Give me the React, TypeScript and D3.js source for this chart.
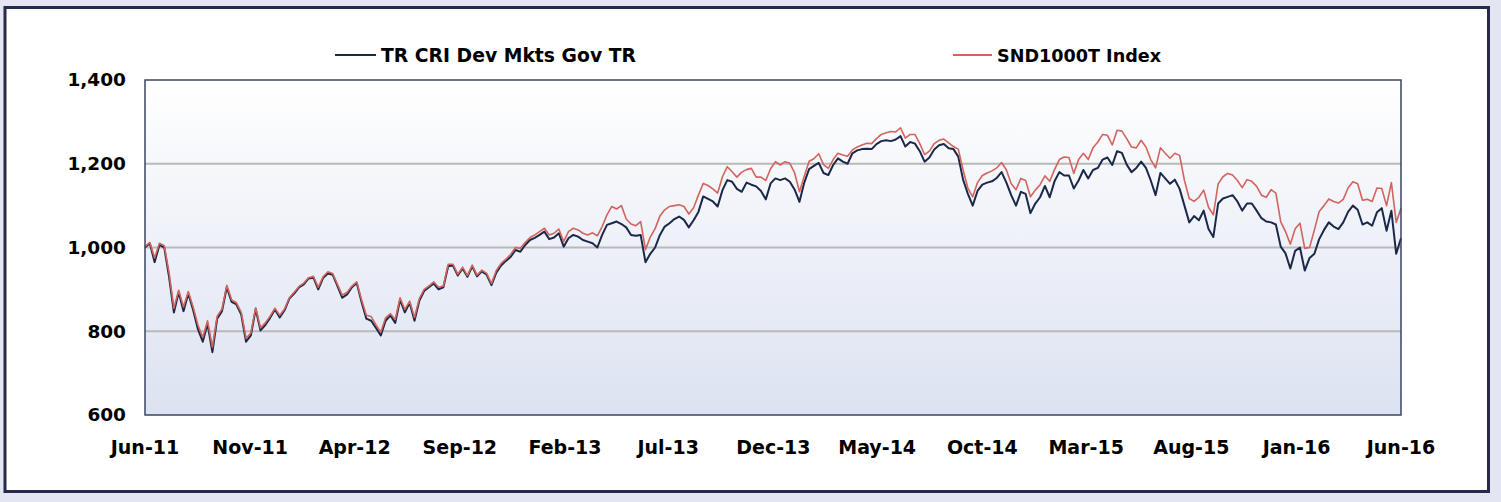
import React from 'react';
import * as d3 from 'd3';

// weekly closes (first point = 1 Jun 2011)
const START_DATE = new Date(2011, 5, 1);
const STEP_DAYS = 7;

const trValues = [
  1000, 1010, 965, 1006, 1000, 930, 845, 893, 848, 890, 851, 805, 775, 818, 750, 830, 848, 905, 870, 864,
  840, 775, 790, 853, 802, 815, 832, 852, 833, 850, 878, 890, 905, 912, 926, 928, 900, 927, 938, 935,
  908, 880, 888, 905, 915, 870, 830, 825, 808, 790, 825, 838, 820, 875, 845, 868, 825, 873, 896, 905,
  914, 900, 905, 955, 957, 933, 950, 930, 955, 931, 943, 935, 910, 940, 957, 968, 978, 994, 990, 1006,
  1018, 1023, 1030, 1038, 1020, 1024, 1034, 1002, 1022, 1030, 1026, 1018, 1014, 1010, 1000, 1030, 1054, 1058, 1062, 1056,
  1048, 1030, 1028, 1030, 965, 985, 1000, 1030, 1050, 1058, 1068, 1074, 1066, 1048, 1065, 1085, 1122, 1116, 1110, 1098,
  1137, 1161, 1157, 1140, 1133, 1155, 1150, 1146, 1135, 1115, 1153, 1165, 1161, 1165, 1157, 1138, 1109, 1155, 1187, 1195,
  1202, 1178, 1173, 1197, 1213, 1205, 1200, 1225, 1232, 1235, 1236, 1235, 1247, 1254, 1256, 1254, 1258, 1266, 1241, 1252,
  1248, 1230, 1205, 1215, 1234, 1244, 1247, 1237, 1235, 1217, 1162, 1128, 1100, 1135, 1150, 1155, 1158, 1166, 1180, 1155,
  1125, 1100, 1133, 1128, 1082, 1105, 1120, 1147, 1120, 1158, 1180, 1172, 1172, 1141, 1160, 1185, 1165, 1185, 1190, 1210,
  1215, 1197, 1230, 1226, 1198, 1180, 1190, 1205, 1190, 1160, 1125, 1178, 1165, 1152, 1162, 1140, 1100, 1060, 1075, 1065,
  1088, 1044, 1025, 1105, 1117, 1121, 1125, 1110, 1088, 1105, 1105, 1088, 1070, 1062, 1060, 1055, 1002, 986, 950, 992,
  1000, 945, 975, 985, 1020, 1042, 1060, 1050, 1044, 1060, 1085, 1100, 1090, 1055, 1060, 1052, 1084, 1094, 1040, 1088,
  985, 1022
];

const sndValues = [
  1002, 1012, 975, 1010, 1004, 940, 855, 898, 858, 895, 858, 815, 785, 825, 762, 836, 853, 910, 875, 868,
  845, 783, 796, 856, 808, 820, 836, 855, 838, 853, 880, 893, 907, 915, 928, 931, 905, 930, 942, 938,
  912, 886, 893, 908, 918, 875, 838, 835, 815, 798, 832, 842, 828, 880, 852, 872, 833, 878, 900, 908,
  918, 905, 908, 960, 960, 936, 953, 933, 958, 934, 946, 938, 914, 945, 962, 972, 984, 1000, 998, 1012,
  1024, 1030, 1038, 1046, 1030, 1034, 1044, 1014, 1038, 1046, 1042, 1034, 1030, 1035, 1028, 1050, 1078, 1098, 1092, 1100,
  1068, 1056, 1052, 1062, 995, 1025, 1045, 1075, 1090, 1098, 1100, 1102, 1098, 1080, 1095, 1125, 1153, 1148, 1140, 1130,
  1169, 1193, 1181, 1168, 1180, 1186, 1189, 1168, 1168, 1160, 1188, 1205, 1197, 1205, 1201, 1178, 1133, 1170, 1206, 1212,
  1224, 1198, 1189, 1210, 1225, 1221, 1218, 1233, 1240, 1245, 1249, 1248, 1260, 1270, 1274, 1277, 1276, 1286, 1261, 1270,
  1270, 1248, 1222, 1230, 1248, 1256, 1259, 1250, 1241, 1235, 1185, 1142, 1121, 1155, 1172, 1178, 1183, 1190, 1203, 1185,
  1152, 1138, 1165, 1160, 1121, 1137, 1150, 1171, 1158, 1186, 1210, 1216, 1215, 1177, 1210, 1225, 1210, 1238, 1252, 1270,
  1268, 1245, 1280, 1278, 1260, 1240, 1238, 1256, 1240, 1210, 1190, 1238, 1225, 1213, 1225, 1220, 1160, 1117, 1110, 1120,
  1137, 1096, 1078, 1152, 1169, 1177, 1173, 1160, 1143, 1162, 1158, 1146, 1125, 1120, 1138, 1130, 1062, 1038, 1008, 1045,
  1058, 998, 1000, 1042, 1086, 1100, 1116, 1110, 1106, 1115, 1142, 1157, 1152, 1113, 1115, 1110, 1142, 1141, 1100, 1155,
  1060, 1094
];

const tickLabels = ['Jun-11', 'Nov-11', 'Apr-12', 'Sep-12', 'Feb-13', 'Jul-13', 'Dec-13', 'May-14', 'Oct-14', 'Mar-15', 'Aug-15', 'Jan-16', 'Jun-16'];
const yTicks = [600, 800, 1000, 1200, 1400];
const seriesNames = ['TR CRI Dev Mkts Gov TR', 'SND1000T Index'];
const seriesColors = ['#1b2848', '#d2645d'];

const W = 1501;
const H = 502;
const FONT = '"DejaVu Sans", Verdana, sans-serif';

const App: React.FC = () => {
  const plot = { left: 145, right: 1401, top: 80, bottom: 415 };
  const parseTick = d3.timeParse('%b-%y');
  const tickDates = tickLabels.map(t => parseTick(t) as Date);

  const dates = trValues.map((_, i) => d3.timeDay.offset(START_DATE, i * STEP_DAYS));

  const x = d3.scaleTime()
    .domain([tickDates[0], tickDates[tickDates.length - 1]])
    .range([plot.left, plot.right]);
  const y = d3.scaleLinear().domain([600, 1400]).range([plot.bottom, plot.top]);

  const line = d3.line<number>()
    .x((_, i) => x(dates[i]))
    .y(d => y(d));

  const fmt = d3.format(',');

  return (
    <div style={{ position: 'absolute', left: 0, top: 0 }}>
      <svg width={W} height={H} viewBox={`0 0 ${W} ${H}`} style={{ display: 'block' }}>
        <defs>
          <linearGradient id="plotBg" x1="0" y1="0" x2="0" y2="1">
            <stop offset="0%" stopColor="#ffffff" />
            <stop offset="100%" stopColor="#dce2f1" />
          </linearGradient>
        </defs>
        <rect x={0} y={0} width={W} height={H} fill="#e3e6f2" />
        <rect x={5} y={7.5} width={1483.5} height={484} fill="#ffffff" stroke="#252a4b" strokeWidth={3} />

        {/* plot area */}
        <rect x={plot.left} y={plot.top} width={plot.right - plot.left} height={plot.bottom - plot.top} fill="url(#plotBg)" />

        {/* grid lines */}
        {yTicks.slice(1, -1).map(t => (
          <line key={t} x1={plot.left} x2={plot.right} y1={y(t)} y2={y(t)} stroke="#b9b9b9" strokeWidth={2} />
        ))}

        {/* series */}
        <path d={line(trValues) || ''} fill="none" stroke={seriesColors[0]} strokeWidth={2} strokeLinejoin="round" />
        <path d={line(sndValues) || ''} fill="none" stroke={seriesColors[1]} strokeWidth={1.6} strokeLinejoin="round" />

        <rect x={plot.left} y={plot.top} width={plot.right - plot.left} height={plot.bottom - plot.top} fill="none" stroke="#3a4560" strokeWidth={1.5} />

        {/* y axis labels */}
        {yTicks.map(t => (
          <text key={t} x={126} y={y(t)} dy="0.35em" textAnchor="end" fontFamily={FONT} fontWeight="bold" fontSize={18.5} fill="#000">
            {fmt(t)}
          </text>
        ))}

        {/* x axis labels */}
        {tickDates.map((d, i) => (
          <text key={tickLabels[i]} x={x(d)} y={454} textAnchor="middle" fontFamily={FONT} fontWeight="bold" fontSize={19} fill="#000">
            {tickLabels[i]}
          </text>
        ))}

        {/* legend */}
        <line x1={335} x2={376} y1={55} y2={55} stroke={seriesColors[0]} strokeWidth={2} />
        <text x={381} y={62} fontFamily={FONT} fontWeight="bold" fontSize={18.8} fill="#000">{seriesNames[0]}</text>
        <line x1={953} x2={992} y1={55} y2={55} stroke={seriesColors[1]} strokeWidth={2} />
        <text x={997} y={62} fontFamily={FONT} fontWeight="bold" fontSize={17.6} fill="#000">{seriesNames[1]}</text>
      </svg>
    </div>
  );
};

export default App;
